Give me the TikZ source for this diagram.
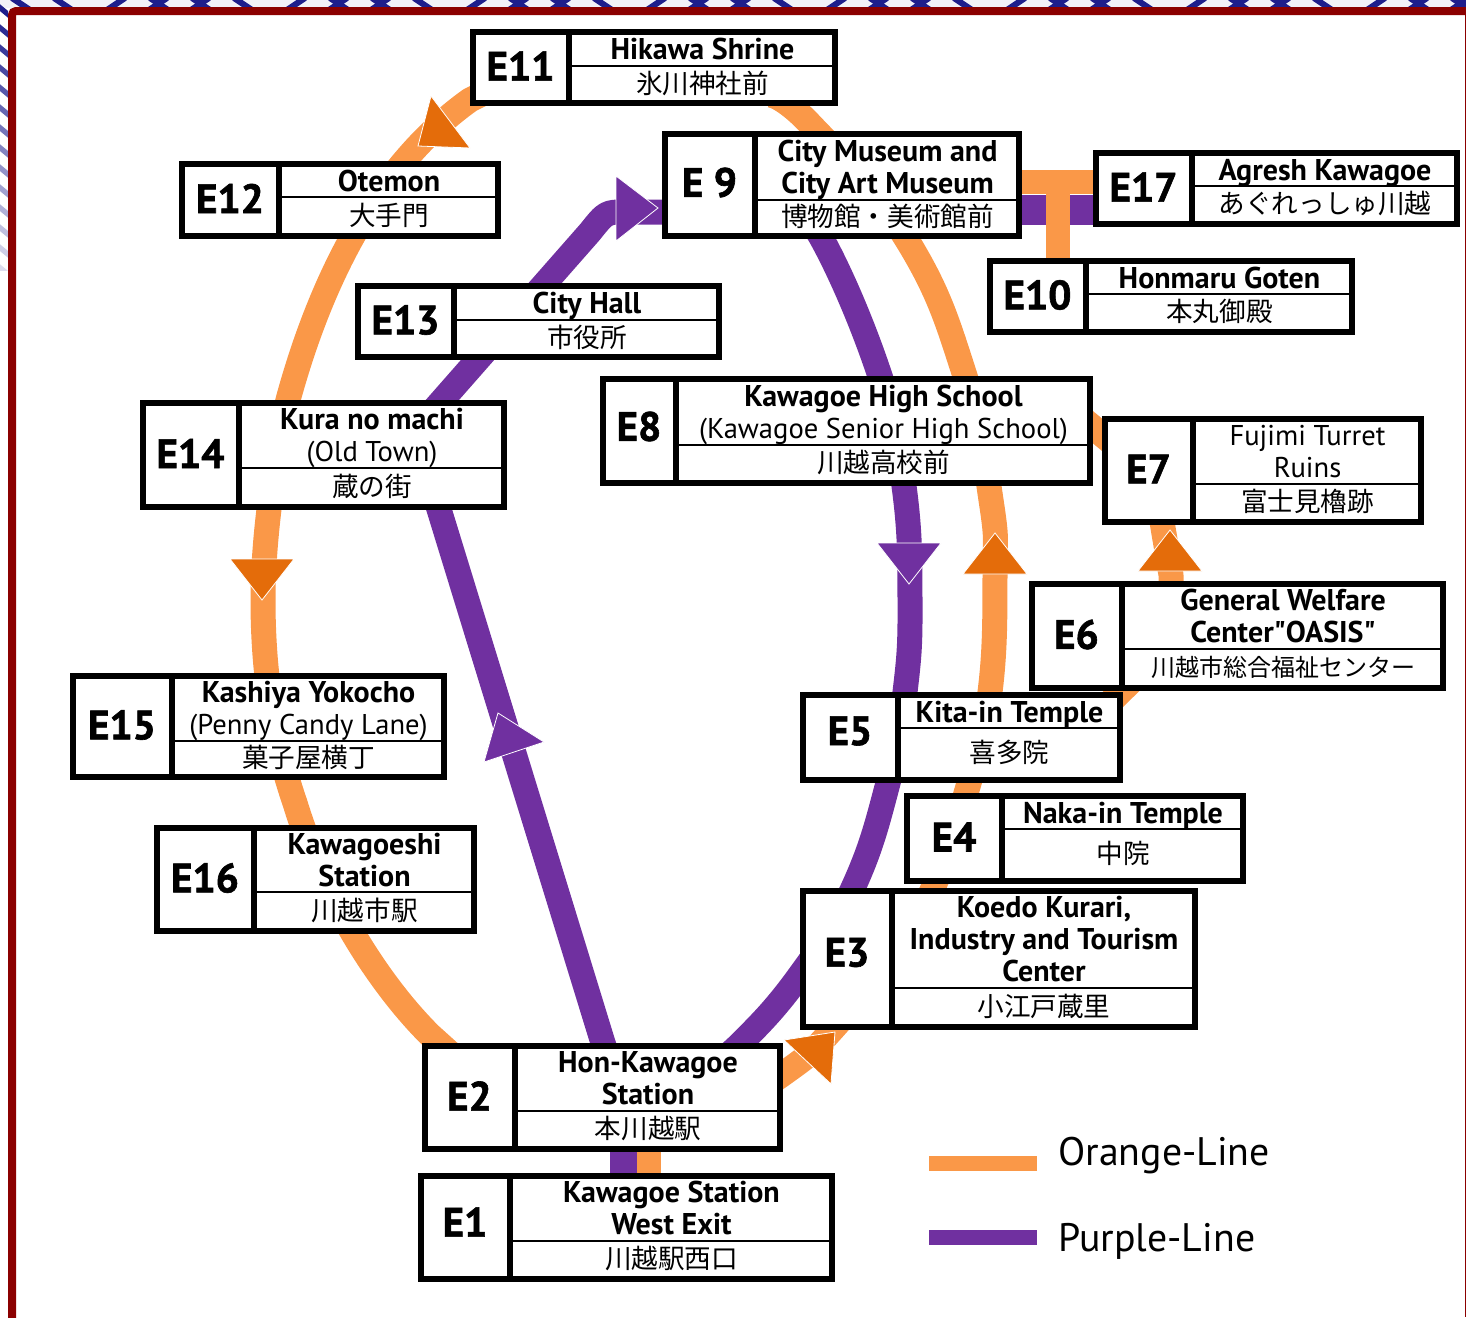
\documentclass[tikz,border=0pt]{standalone}
\usepackage{fontspec}
\setmainfont{PT Sans}
\newfontfamily\cjk{Noto Sans CJK JP}
\newfontfamily\plainq{PT Sans}
\newfontfamily\idf{PT Sans}[BoldFont={PT Sans Bold},BoldFeatures={FakeBold=1.5}]
\usetikzlibrary{backgrounds}
\definecolor{lineO}{RGB}{250,152,72}
\definecolor{lineP}{RGB}{112,48,160}
\definecolor{arrO}{RGB}{228,108,10}
\definecolor{frameR}{RGB}{139,0,0}
\definecolor{chev}{RGB}{30,30,140}
\tikzset{
  stbox/.style={draw=black,fill=white,line width=3pt,inner sep=0pt,outer sep=0pt},
  idtext/.style={font=\idf\bfseries\fontsize{20.5}{22}\selectfont,inner sep=0pt},
  entext/.style={font=\bfseries\fontsize{15}{16}\selectfont,align=center,inner sep=0pt,
    execute at begin node=\strut,execute at end node=\strut},
  jptext/.style={font=\cjk\fontsize{13.3}{15}\selectfont,inner sep=0pt},
  orangeline/.style={draw=lineO,line width=12.5pt,line join=round},
  purpleline/.style={draw=lineP,line width=12.5pt,line join=round},
  tip/.style={draw=white,line width=0.4pt,line join=miter},
  legendtext/.style={font=\fontsize{19.9}{24}\selectfont,anchor=west,inner sep=0pt},
}
\newcommand\rg[1]{{\mdseries\fontsize{14.3}{16}\selectfont #1}}
\def\idfix{0}
\def\stn#1#2#3#4#5#6#7#8#9{%
  \def\stnname{#1}\def\stnxa{#2}\def\stnya{#3}\def\stnxb{#4}\def\stnyb{#5}%
  \def\stndv{#6}\def\stnhy{#7}\def\stnid{#8}\def\stnen{#9}\stnrest}
\newcommand\stnrest[1]{%
  \pgfmathsetmacro\stnw{(\stnxb-\stnxa)/2-3}%
  \pgfmathsetmacro\stnh{(\stnyb-\stnya)/2-3}%
  \pgfmathsetmacro\stncx{(\stnxa+\stnxb)/2}%
  \pgfmathsetmacro\stncy{(\stnya+\stnyb)/2}%
  \pgfmathsetmacro\stnidx{(\stnxa+\stndv)/2+1}%
  \pgfmathsetmacro\stnidy{\stncy-1.5+\idfix}%
  \pgfmathsetmacro\stntx{(\stndv+\stnxb)/2-1}%
  \pgfmathsetmacro\stney{(\stnya+\stnhy)/2+6}%
  \pgfmathsetmacro\stnjy{(\stnhy+\stnyb)/2-3}%
  \node[stbox,minimum width=\stnw pt,minimum height=\stnh pt] (\stnname) at (\stncx,\stncy) {};
  \draw[line width=3pt] (\stndv,\stnya) -- (\stndv,\stnyb);
  \draw[line width=1pt] (\stndv,\stnhy) -- (\stnxb-3,\stnhy);
  \node[idtext] (\stnname-id) at (\stnidx,\stnidy) {\stnid};
  \node[entext] (\stnname-en) at (\stntx,\stney) {\stnen};
  \node[jptext] (\stnname-jp) at (\stntx,\stnjy) {#1};
  \gdef\idfix{0}%
}
\begin{document}
\begin{tikzpicture}[x=0.5pt,y=-0.5pt]
\useasboundingbox (0,0) rectangle (1466,1317);
% stations
\gdef\idfix{-4}
\stn{E1}{418}{1173}{835}{1282}{510}{1241}{E1}{Kawagoe Station\\West Exit}{川越駅西口}
\stn{E2}{422}{1043}{783}{1152}{515}{1111}{E2}{Hon-Kawagoe\\Station}{本川越駅}
\gdef\idfix{-5}
\stn{E3}{800}{888}{1198}{1030}{892}{988}{E3}{Koedo Kurari,\\Industry and Tourism\\Center}{小江戸蔵里}
\stn{E4}{904}{793}{1246}{884}{1002}{829}{E4}{Naka-in Temple}{\raisebox{-3pt}{中院}}
\gdef\idfix{-5}
\stn{E5}{800}{692}{1123}{783}{898}{728}{E5}{Kita-in Temple}{\raisebox{-3pt}{喜多院}}
\stn{E6}{1029}{581}{1446}{691}{1122}{649}{E6}{General Welfare\\Center{\plainq"}OASIS{\plainq"}}{\fontsize{12}{15}\selectfont 川越市総合福祉センター}
\stn{E7}{1102}{416}{1424}{525}{1193}{484}{E7}{\rg{Fujimi Turret}\\\rg{Ruins}}{富士見櫓跡}
\gdef\idfix{-3}
\stn{E8}{600}{376}{1093}{486}{676}{445}{E8}{Kawagoe High School\\\rg{(Kawagoe Senior High School)}}{川越高校前}
\gdef\idfix{-1}
\stn{E9}{662}{131}{1022}{239}{755}{200}{E 9}{City Museum and\\City Art Museum}{博物館・美術館前}
\stn{E10}{987}{258}{1355}{335}{1086}{294}{E10}{Honmaru Goten}{本丸御殿}
\stn{E11}{470}{29}{838}{106}{569}{66}{E11}{Hikawa Shrine}{氷川神社前}
\stn{E12}{179}{161}{501}{239}{279}{197}{E12}{Otemon}{大手門}
\stn{E13}{355}{283}{722}{360}{454}{320}{E13}{City Hall}{市役所}
\stn{E14}{140}{400}{507}{510}{239}{468}{E14}{Kura no machi\\\rg{(Old Town)}}{蔵の街}
\stn{E15}{70}{673}{447}{780}{172}{741}{E15}{Kashiya Yokocho\\\rg{(Penny Candy Lane)}}{菓子屋横丁}
\stn{E16}{154}{825}{477}{934}{254}{892}{E16}{Kawagoeshi\\Station}{川越市駅}
\stn{E17}{1093}{150}{1460}{227}{1192}{186}{E17}{Agresh Kawagoe}{あぐれっしゅ川越}
% route way-points (all hidden ends lie behind the station boxes)
\foreach \n/\x/\y in {
  oa/700/1125, ob/783/1074, oc/832/1030, oc2/895/950, od/933/888, oe/969/783, of/990/692, og/995/575,
  oh/991/500, oi/965/376, oj/907/240, ok/811/125, ol/770/95,
  om/520/75, on/470/100, n1/372/170, n2/318/290, oq/288/400, q1/277/445, q2/263/530, os/263/600,
  s1/263/680, s2/275/745, ou/295/803, u1/320/885, u2/370/975, ox/430/1035, oy/480/1080,
  pa/822/239, pb/880/376, pc/904/486, pd/910/600, pe/905/692, pf/888/783, pg/853/888,
  ph/800/975, pi/741/1043, pj/700/1075, pk/790/212,
  qa/430/480, qb/603/1043, qc/612/1070, qd/416/430, qe/590/232, qk/606/212, qf/625/212, qg/680/212,
  ra/1060/400, rb/1135/462, sa/1160/510, sb/1171/575, sc/1171/600, ta/1100/712, tb/1145/668}
  {\coordinate (\n) at (\x,\y);}
\begin{scope}[on background layer]
  % patterned page behind the frame
  \begin{scope}
    \clip (0,0) rectangle (1466,8);
    \fill[white!94!chev] (0,0) rectangle (1466,8);
    \foreach \k in {0,1,...,8}{
      \foreach \s in {0,1,2}{
        \pgfmathsetmacro\xx{\k*180+\s*42-30}
        \draw[chev,line width=3pt] (\xx,-2) -- (\xx+18,10);
        \draw[chev,line width=3pt] (\xx+155,-2) -- (\xx+137,10);
      }
    }
  \end{scope}
  \begin{scope}
    \clip (0,0) rectangle (8,270);
    \foreach \k in {0,1,...,13}{
      \pgfmathsetmacro\op{max(0.12,1-\k*0.065)}
      \draw[chev,opacity=\op,line width=2.6pt] (-2,\k*20+6) -- (10,\k*20+16);
    }
  \end{scope}
  \draw[frameR,line width=4pt,rounded corners=2pt] (12,1320) -- (12,11) -- (1470,11);
  \draw[frameR,line width=0.5pt] (1465,11) -- (1465,1317);
  % purple
  \draw[lineP,line width=14pt] (E1.north -| 624,0) -- (624,1130);
  \draw[purpleline] plot[smooth,tension=0.75] coordinates {(pk)(pa)(pb)(pc)(pd)(pe)(pf)(pg)(ph)(pi)(pj)};
  \draw[purpleline] (qc) -- (qb) -- (qa);
  \draw[purpleline] (qd) -- (qe) .. controls (qk) .. (qf) -- (qg);
  \draw[lineP,line width=15pt] (E9.east |- 0,209.5) -- (E17.west |- 0,209.5);
  % orange
  \draw[lineO,line width=12pt] (E1.north -| 649,0) -- (649,1130);
  \draw[orangeline] plot[smooth,tension=0.75] coordinates {(oa)(ob)(oc)(oc2)(od)(oe)(of)(og)(oh)(oi)(oj)(ok)(ol)};
  \draw[orangeline] (om) -- (on) .. controls (n1) and (n2) .. (oq) .. controls (q1) and (q2) .. (os)
     .. controls (s1) and (s2) .. (ou) .. controls (u1) and (u2) .. (ox) -- (oy);
  \draw[orangeline] (ra) -- (rb);
  \draw[orangeline] (sa) -- (sb) -- (sc);
  \draw[orangeline] (ta) -- (tb);
  \draw[lineO,line width=12pt] (E9.east |- 0,182) -- (E17.west |- 0,182);
  \draw[lineO,line width=12pt] (1058,171) -- (E10.north -| 1058,0);
  % direction triangles
  \draw[tip,fill=arrO] (431,96) -- (418,146) -- (470,148) -- cycle;
  \draw[tip,fill=arrO] (230,559) -- (294,559) -- (262,600) -- cycle;
  \draw[tip,fill=arrO] (963,574) -- (1027,574) -- (995,533) -- cycle;
  \draw[tip,fill=arrO] (1138,571) -- (1202,571) -- (1170,530) -- cycle;
  \draw[tip,fill=arrO] (784,1040) -- (835,1032) -- (831,1084) -- cycle;
  \draw[tip,fill=lineP] (616,176) -- (616,241) -- (658,208) -- cycle;
  \draw[tip,fill=lineP] (877,543) -- (941,543) -- (909,584) -- cycle;
  \draw[tip,fill=lineP] (498,713) -- (484,762) -- (544,742) -- cycle;
\end{scope}
% legend
\coordinate (lo1) at (929,1163); \coordinate (lo2) at (1037,1163);
\coordinate (lp1) at (929,1237); \coordinate (lp2) at (1037,1237);
\draw[lineO,line width=7.5pt] (lo1) -- (lo2);
\draw[lineP,line width=7.5pt] (lp1) -- (lp2);
\node[legendtext] (legO) at (1058,1156) {Orange-Line};
\node[legendtext] (legP) at (1058,1241) {Purple-Line};
\end{tikzpicture}
\end{document}
